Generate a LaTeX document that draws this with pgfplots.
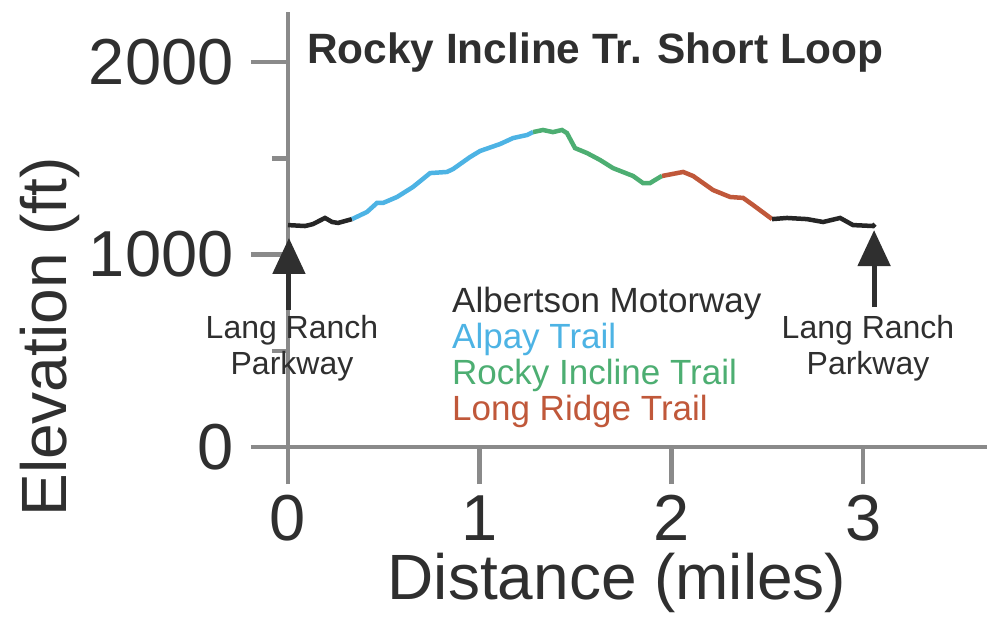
\documentclass[border=0pt]{standalone}
\usepackage{pgfplots}
\pgfplotsset{compat=1.18}
\usepackage{fontspec}
\setmainfont{Liberation Sans}
\usetikzlibrary{arrows.meta}
\definecolor{axgray}{HTML}{8A8A8A}
\definecolor{txt}{HTML}{2F2F2F}
\definecolor{trblack}{HTML}{262626}
\definecolor{trblue}{HTML}{4DB3E4}
\definecolor{trgreen}{HTML}{4DAE72}
\definecolor{trred}{HTML}{C0583A}
\begin{document}
\begin{tikzpicture}
\path[use as bounding box] (0,0) rectangle (987bp,618bp);
\begin{axis}[
  at={(288bp,171bp)}, anchor=south west,
  scale only axis, width=699bp, height=435bp,
  xmin=0, xmax=3.646, ymin=0, ymax=2260,
  axis lines=left, axis line style={-, axgray, line width=4.5bp},
  xtick={0,1,2,3}, ytick={0,1000,2000}, minor ytick={500,1500},
  scaled ticks=false,
  tick align=outside, major tick length=37bp, minor tick length=16bp,
  tick style={axgray, line width=4.5bp},
  tick label style={font=\fontsize{65bp}{72bp}\selectfont, text=txt},
  yticklabel style={xshift=-14bp},
  xticklabel style={yshift=-8bp},
  /pgf/number format/assume math mode=true,
  /pgf/number format/1000 sep={},
  xlabel={Distance (miles)}, ylabel={Elevation (ft)},
  label style={font=\fontsize{64bp}{70bp}\selectfont, text=txt},
  xlabel style={at={(rel axis cs:0.4707,-0.3517)}, anchor=base, inner sep=0pt},
  ylabel style={at={(rel axis cs:-0.3175,0.2529)}, anchor=base, rotate=0, inner sep=0pt},
  title={Rocky Incline Tr. Short Loop},
  title style={at={(rel axis cs:0.0272,0.869)}, anchor=base west, inner sep=0pt,
    font=\bfseries\fontsize{42.4bp}{48bp}\selectfont, text=txt},
  clip=false,
]
\addplot[trblack, line width=4.5bp] coordinates {
(0.000,1153) (0.089,1148) (0.130,1158) (0.193,1190) (0.230,1169) (0.261,1164) (0.334,1184)};
\addplot[trblue, line width=4.5bp] coordinates {
(0.334,1184) (0.412,1221) (0.464,1268) (0.496,1268) (0.569,1299) (0.652,1351) (0.741,1423)
(0.829,1429) (0.861,1444) (0.949,1506) (1.002,1538) (1.106,1574) (1.174,1605) (1.247,1621) (1.278,1636)};
\addplot[trgreen, line width=4.5bp] coordinates {
(1.278,1636) (1.330,1647) (1.382,1636) (1.429,1647) (1.455,1631) (1.497,1553) (1.560,1527)
(1.628,1491) (1.695,1449) (1.800,1408) (1.852,1371) (1.888,1371) (1.941,1403) (1.951,1408)};
\addplot[trred, line width=4.5bp] coordinates {
(1.951,1408) (2.061,1429) (2.113,1408) (2.217,1335) (2.306,1299) (2.374,1294) (2.426,1257) (2.525,1184)};
\addplot[trblack, line width=4.5bp] coordinates {
(2.525,1184) (2.603,1190) (2.707,1184) (2.791,1169) (2.880,1190) (2.947,1153) (3.052,1148) (3.062,1158)};
\draw[txt, line width=5bp, -{Triangle[width=32bp,length=36bp]}] (axis cs:0.005,712) -- (axis cs:0.005,1086);
\draw[txt, line width=5bp, -{Triangle[width=32bp,length=36bp]}] (axis cs:3.057,727) -- (axis cs:3.057,1127);
\end{axis}
\begin{scope}[every node/.style={inner sep=0pt, font=\fontsize{32bp}{36bp}\selectfont}]
\node[anchor=base, text=txt] at (292bp,279bp) {Lang Ranch};
\node[anchor=base, text=txt] at (292bp,243bp) {Parkway};
\node[anchor=base, text=txt] at (868bp,279bp) {Lang Ranch};
\node[anchor=base, text=txt] at (868bp,243bp) {Parkway};
\end{scope}
\begin{scope}[every node/.style={inner sep=0pt, anchor=base west, font=\fontsize{35bp}{38bp}\selectfont}]
\node[text=txt] at (452bp,305bp) {Albertson Motorway};
\node[text=trblue] at (452bp,269bp) {Alpay Trail};
\node[text=trgreen] at (452bp,233bp) {Rocky Incline Trail};
\node[text=trred] at (452bp,197bp) {Long Ridge Trail};
\end{scope}
\end{tikzpicture}
\end{document}
